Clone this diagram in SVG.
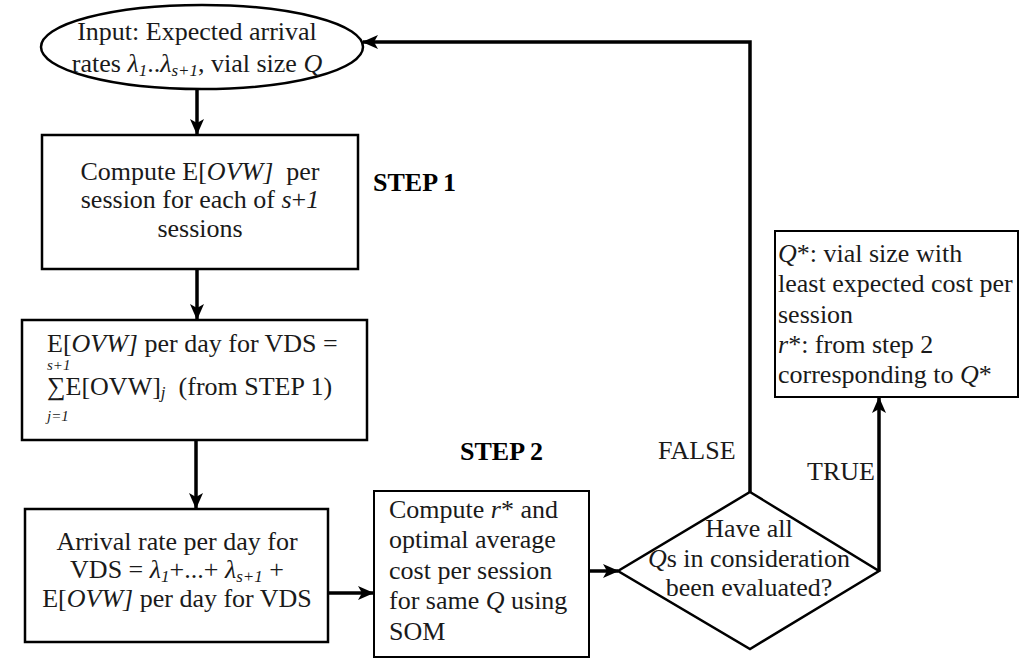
<svg xmlns="http://www.w3.org/2000/svg" width="1021" height="659" viewBox="0 0 1021 659">
  <style>
    .shape { fill: #ffffff; stroke: #000000; stroke-width: 2.5; }
    .thin { stroke-width: 2; }
    .txt { font-family: "Liberation Serif", "Times New Roman", serif; font-size: 26px; fill: #1a1a1a; }
    .mid { text-anchor: middle; }
    .it { font-style: italic; }
    .sub { font-size: 17px; font-style: italic; }
    .lim { font-family: "Liberation Serif", "Times New Roman", serif; font-size: 15px; font-style: italic; fill: #1a1a1a; }
    .step { font-family: "Liberation Serif", "Times New Roman", serif; font-size: 26px; font-weight: bold; fill: #000000; }
    .conn { fill: none; stroke: #000000; stroke-width: 3.5; }
  </style>
  <defs>
    <marker id="arrow" markerUnits="userSpaceOnUse" markerWidth="16" markerHeight="16" viewBox="0 0 16 16" refX="15" refY="8" orient="auto">
      <path d="M0,1 L16,8 L0,15 L4,8 z" fill="#000000"/>
    </marker>
  </defs>

  <rect width="1021" height="659" fill="#ffffff"/>

  <!-- connectors -->
  <g id="connectors">
    <path class="conn" d="M197,90 L197,134" marker-end="url(#arrow)"/>
    <path class="conn" d="M197,269 L197,319" marker-end="url(#arrow)"/>
    <path class="conn" d="M196,440 L196,508" marker-end="url(#arrow)"/>
    <path class="conn" d="M328,593 L373,593" marker-end="url(#arrow)"/>
    <path class="conn" d="M589,571 L618,571" marker-end="url(#arrow)"/>
    <path class="conn" d="M879,571 L879,398" marker-end="url(#arrow)"/>
    <path class="conn" d="M750,492 L750,42 L363,42" marker-end="url(#arrow)"/>
  </g>

  <!-- input ellipse -->
  <g id="input">
    <ellipse class="shape" cx="202" cy="47" rx="161" ry="42"/>
    <text class="txt mid" x="197" y="40">Input: Expected arrival</text>
    <text class="txt mid" x="197" y="72">rates <tspan class="it">λ</tspan><tspan class="sub" dy="4">1</tspan><tspan dy="-4">..</tspan><tspan class="it">λ</tspan><tspan class="sub" dy="4">s+1</tspan><tspan dy="-4">, vial size </tspan><tspan class="it">Q</tspan></text>
  </g>

  <!-- step 1: expected OVW per session -->
  <g id="ovw-session">
    <rect class="shape" x="42" y="135" width="316" height="134"/>
    <text class="txt mid" x="200" y="180" xml:space="preserve">Compute E[<tspan class="it">OVW]</tspan>  per</text>
    <text class="txt mid" x="200" y="208">session for each of <tspan class="it">s</tspan>+<tspan class="it">1</tspan></text>
    <text class="txt mid" x="200" y="237">sessions</text>
  </g>

  <text id="step1" class="step" x="373" y="191">STEP 1</text>

  <!-- expected OVW per day -->
  <g id="ovw-day">
    <rect class="shape" x="22" y="320" width="345" height="120"/>
    <text class="txt" x="47" y="352">E[<tspan class="it">OVW]</tspan> per day for VDS =</text>
    <text class="lim" x="47" y="370">s+1</text>
    <text class="txt" x="47" y="395" xml:space="preserve">∑E[OVW]<tspan class="sub" dy="3">j</tspan><tspan dy="-3">  (from STEP 1)</tspan></text>
    <text class="lim" x="47" y="421">j=1</text>
  </g>

  <!-- arrival rate per day -->
  <g id="arrival-rate">
    <rect class="shape" x="25" y="509" width="303" height="133"/>
    <text class="txt mid" x="177" y="550">Arrival rate per day for</text>
    <text class="txt mid" x="177" y="578">VDS = <tspan class="it">λ</tspan><tspan class="sub" dy="4">1</tspan><tspan dy="-4">+...+ </tspan><tspan class="it">λ</tspan><tspan class="sub" dy="4">s+1</tspan><tspan dy="-4"> +</tspan></text>
    <text class="txt mid" x="177" y="607">E[<tspan class="it">OVW]</tspan> per day for VDS</text>
  </g>

  <text id="step2" class="step" x="460" y="460">STEP 2</text>

  <!-- step 2: optimal cost -->
  <g id="optimal-cost">
    <rect class="shape thin" x="374" y="491" width="215" height="166"/>
    <text class="txt" x="389" y="518">Compute <tspan class="it">r</tspan>* and</text>
    <text class="txt" x="389" y="548">optimal average</text>
    <text class="txt" x="389" y="579">cost per session</text>
    <text class="txt" x="389" y="609">for same <tspan class="it">Q</tspan> using</text>
    <text class="txt" x="389" y="640">SOM</text>
  </g>

  <!-- decision -->
  <g id="decision">
    <polygon class="shape" points="750,492 879,571 750,649 618,571"/>
    <text class="txt mid" x="749" y="537">Have all</text>
    <text class="txt mid" x="749" y="567"><tspan class="it">Q</tspan>s in consideration</text>
    <text class="txt mid" x="749" y="596">been evaluated?</text>
  </g>

  <text id="label-false" class="txt" x="658" y="459">FALSE</text>
  <text id="label-true" class="txt" x="807" y="480">TRUE</text>

  <!-- result -->
  <g id="result">
    <rect class="shape thin" x="775" y="231" width="243" height="166"/>
    <text class="txt" x="778" y="262"><tspan class="it">Q</tspan>*: vial size with</text>
    <text class="txt" x="778" y="292">least expected cost per</text>
    <text class="txt" x="778" y="323">session</text>
    <text class="txt" x="778" y="353"><tspan class="it">r</tspan>*: from step 2</text>
    <text class="txt" x="778" y="383">corresponding to <tspan class="it">Q</tspan>*</text>
  </g>
</svg>
